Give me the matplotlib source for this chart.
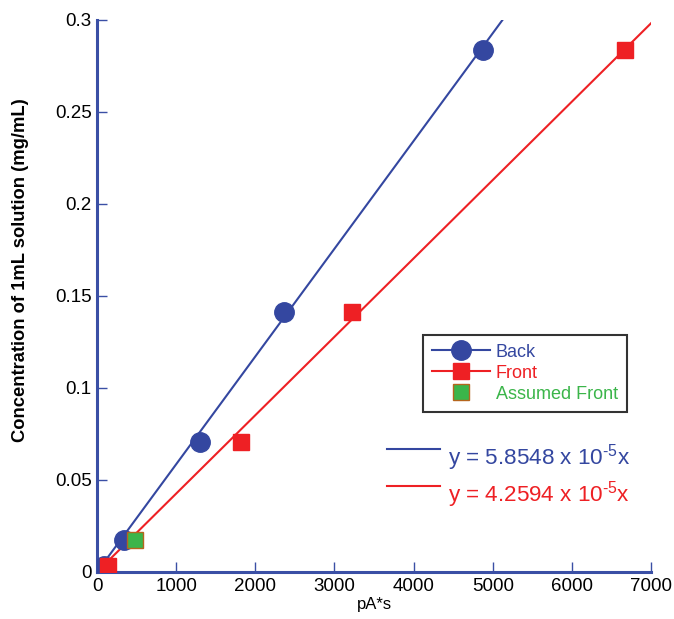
import matplotlib
matplotlib.use("Agg")
import matplotlib.pyplot as plt
import numpy as np
from matplotlib.lines import Line2D

plt.rcParams['font.family'] = ['Liberation Sans', 'DejaVu Sans']
plt.rcParams['mathtext.default'] = 'regular'

back_x = [85, 340, 1300, 2360, 4875]
back_y = [0.0035, 0.0175, 0.0705, 0.1410, 0.2835]
front_x = [140, 3220, 1815, 6670]
front_y = [0.0035, 0.1410, 0.0705, 0.2835]
assumed_x = [480]
assumed_y = [0.0175]
slope_back = 5.8548e-5
slope_front = 4.2594e-5

BLUE = '#3447a0'
RED = '#ee2024'
GREEN = '#3bb54a'
AXC = '#3a4fa5'

fig = plt.figure(figsize=(6.74, 6.19), dpi=100)
ax = fig.add_axes([0.144, 0.076, 0.822, 0.892])

xb = np.array([0, 0.3 / slope_back])
ax.plot(xb, slope_back * xb, color=BLUE, lw=1.5, zorder=2)
xf = np.array([0, 7000])
ax.plot(xf, slope_front * xf, color=RED, lw=1.5, zorder=2)

ax.plot(back_x, back_y, 'o', color=BLUE, ms=14, zorder=3)
ax.plot(front_x, front_y, 's', color=RED, ms=11, zorder=4)
ax.plot(assumed_x, assumed_y, 's', color=GREEN, mec='#b5651d', mew=1, ms=11, zorder=5)

ax.set_xlim(0, 7000)
ax.set_ylim(0, 0.3)
ax.set_xticks(range(0, 7001, 1000))
ax.set_yticks([0, 0.05, 0.1, 0.15, 0.2, 0.25, 0.3])
ax.set_yticklabels(['0', '0.05', '0.1', '0.15', '0.2', '0.25', '0.3'])
for s in ['top', 'right']:
    ax.spines[s].set_visible(False)
for s in ['left', 'bottom']:
    ax.spines[s].set_color(AXC)
    ax.spines[s].set_linewidth(2.2)
ax.tick_params(direction='in', length=7, width=1, color=AXC, labelsize=13.5,
               labelcolor='black', pad=4)
ax.set_xlabel('pA*s', fontsize=12, labelpad=2)
ax.set_ylabel('Concentration of 1mL solution (mg/mL)', fontsize=13.2, fontweight='bold')
ax.yaxis.set_label_coords(-0.122, 0.547)

handles = [
    Line2D([], [], color=BLUE, marker='o', ms=14, lw=1.5),
    Line2D([], [], color=RED, marker='s', ms=11, lw=1.5),
    Line2D([], [], color=GREEN, marker='s', ms=11, mec='#b5651d', mew=1, lw=0),
]
leg = ax.legend(handles, ['Back', 'Front', 'Assumed Front'], loc='upper left',
                bbox_to_anchor=(0.588, 0.430), borderaxespad=0, fontsize=13,
                frameon=True, fancybox=False, edgecolor='black', handlelength=3.2,
                handletextpad=0.35, borderpad=0.5, labelspacing=0.22)
leg.get_frame().set_linewidth(1.5)
for t, c in zip(leg.get_texts(), [BLUE, RED, GREEN]):
    t.set_color(c)

ax.plot([0.524, 0.619], [0.223, 0.223], color=BLUE, lw=1.5, transform=ax.transAxes, clip_on=False)
ax.plot([0.524, 0.619], [0.155, 0.155], color=RED, lw=1.5, transform=ax.transAxes, clip_on=False)

ax.text(0.634, 0.207, 'y = 5.8548 x 10$^{\u20105}$x', color=BLUE, fontsize=16.2,
        transform=ax.transAxes, va='center', ha='left')
ax.text(0.634, 0.140, 'y = 4.2594 x 10$^{\u20105}$x', color=RED, fontsize=16.2,
        transform=ax.transAxes, va='center', ha='left')

fig.savefig('out.png', dpi=100)
